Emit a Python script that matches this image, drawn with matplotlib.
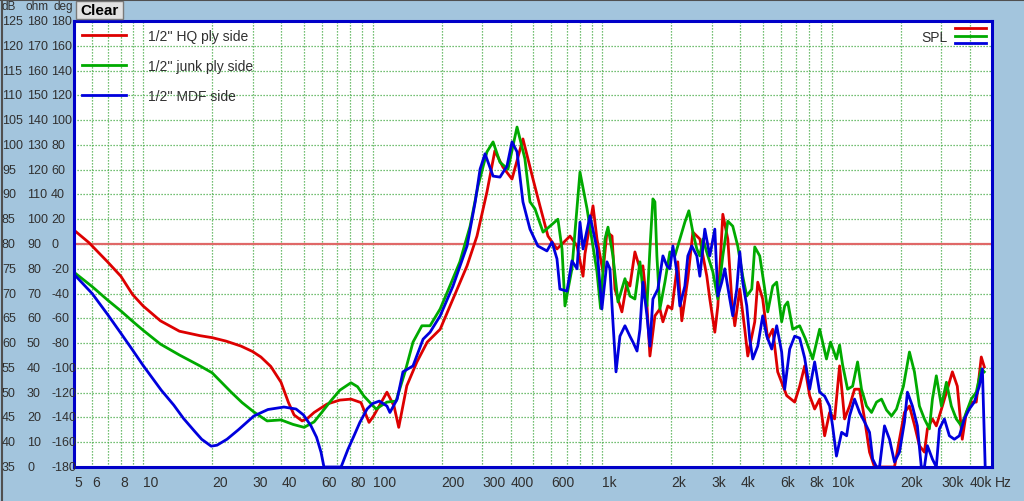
# SPL comparison of three baffle materials (log frequency plot)
import matplotlib
matplotlib.use("Agg")
import matplotlib.pyplot as plt
from matplotlib import transforms
from matplotlib.patches import Rectangle
from matplotlib.lines import Line2D

plt.rcParams['font.family'] = ['Liberation Sans', 'DejaVu Sans']

# --- data -----------------------------------------------------------------
series_labels = ["1/2'' HQ ply side", "1/2'' junk ply side", "1/2'' MDF side"]

red_freq = [5, 5.8, 7, 8, 9, 10, 11.9, 14.4, 17.7, 20, 23, 26.7, 30, 32.6, 36, 39.9, 43, 45.5,
            49.3, 52, 55.6, 63.3, 72, 80.5, 89, 96.5,
            101, 115.5, 124, 130, 141, 156, 173, 197, 224, 258, 285, 315, 341, 370, 405, 452,
            500, 536, 581, 636, 725, 778, 826, 842, 913, 950, 1009, 1050, 1105, 1138, 1220,
            1284, 1322, 1390, 1462, 1506, 1569, 1616, 1699, 1786, 1841, 1935, 2015, 2137, 2225,
            2364, 2486, 2667, 2860, 2947, 3099, 3194, 3358, 3530, 3672, 3786, 3980, 4185, 4314,
            4626, 4767, 5010, 5270, 5540, 5823, 6374, 6905, 7260, 7633, 8024, 8437, 8870, 9325,
            9804, 10308, 10837, 11393, 11978, 12593, 13240, 13919, 14634, 15385, 16500, 17878,
            18796, 19761, 20775, 21842, 22963, 24142, 25381, 26150, 27500, 28600, 30390, 31950,
            33600, 35300, 37100, 38650, 40600, 42700, 44900, 46280]
red_db = [82.8, 80.3, 76.4, 73.5, 69.8, 67.5, 64.5, 62.4, 61.5, 61.1, 60.4, 59.4, 58.3, 57.2,
          55.3, 52.1, 48.0, 45.5, 44.3, 44.8, 46.0, 47.7, 48.5, 48.7, 48.0, 44.0,
          45.3, 50.1, 47.3, 43.0, 51.4, 56.2, 60.2, 62.8, 68.9, 75.6, 81.6, 90.5, 98.8,
          95.5, 93.1, 101.2, 93.1, 87.7, 81.6, 79.0, 81.6, 79.6, 73.5, 78.0, 87.7, 81.0, 74.4,
          82.4, 81.6, 70.9, 66.3, 72.3, 71.5, 78.4, 75.0, 75.6, 67.5, 57.4, 65.5, 66.9, 64.3,
          67.5, 66.9, 76.4, 64.5, 73.0, 82.4, 81.0, 73.5, 68.9, 62.2, 67.5, 86.0, 81.0, 68.9,
          63.5, 70.9, 62.8, 57.4, 64.3, 72.3, 68.9, 60.8, 62.8, 54.2, 49.4, 48.1, 51.3, 55.4,
          49.4, 46.7, 48.7, 41.3, 46.0, 44.7, 55.4, 44.7, 47.3, 50.7, 50.7, 44.7, 38.0, 35.0,
          35.0, 35.0, 35.0, 40.6, 46.0, 47.3, 43.5, 39.3, 38.0, 42.7, 44.7, 43.3, 47.3, 50.7,
          54.2, 51.3, 40.6, 46.0, 48.1, 48.1, 57.2, 55.2]

green_freq = [5, 6, 7, 8, 9, 10, 11.9, 14.4, 17.7, 20, 24.2, 27, 30.4, 34.7, 39.9, 45, 50.3,
              55.6, 60, 65.9, 72, 80.5, 86, 91.7, 103.5,
              115.5, 126.5, 138.5, 150, 164, 178, 197, 217, 240, 266, 288, 315, 335, 359, 389,
              426, 461, 485, 510, 553, 593, 642, 669, 689, 739, 801, 860, 950, 985, 1029, 1061,
              1115, 1173, 1258, 1322, 1390, 1462, 1506, 1569, 1616, 1665, 1699, 1733, 1786, 1878,
              1974, 2076, 2182, 2294, 2388, 2486, 2587, 2667, 2750, 2890, 3038, 3194, 3358, 3530,
              3710, 3900, 4100, 4270, 4490, 4626, 4863, 5113, 5270, 5540, 5765, 6060, 6247, 6440,
              6770, 7260, 7700, 8270, 8870, 9500, 9900, 10500, 10837, 11170, 11740, 12350, 12980,
              13500, 14200, 14930, 15700, 16500, 17350, 18250, 19180, 20560, 21840, 22960, 24140,
              25380, 26680, 27500, 28600, 30100, 31650, 33250, 34950, 36750, 38650, 40600, 42700,
              44900, 46280]
green_db = [74.3, 71.4, 68.7, 66.5, 64.4, 62.6, 59.8, 57.6, 55.4, 54.0, 50.1, 48.0, 46.1, 44.3,
            44.5, 43.6, 43.0, 44.1, 46.0, 48.4, 50.5, 52.0, 51.2, 49.3,
            46.7, 48.1, 48.3, 54.2, 60.2, 63.5, 63.5, 66.9, 71.5, 76.4, 83.6, 91.7, 98.6, 100.6,
            96.5, 95.1, 103.6, 97.2, 88.5, 87.1, 82.4, 83.6, 85.0, 79.0, 67.5, 75.0, 94.5, 87.1,
            74.4, 67.0, 81.0, 83.4, 77.6, 68.3, 73.0, 69.5, 68.9, 76.4, 70.9, 67.5, 79.0, 89.1,
            88.5, 77.6, 66.9, 72.3, 78.4, 77.6, 81.0, 84.4, 86.7, 82.4, 79.0, 77.6, 81.0, 77.6,
            74.4, 68.9, 77.6, 84.6, 83.6, 79.6, 73.5, 69.5, 70.9, 79.4, 77.6, 70.9, 66.3, 71.5,
            72.3, 64.3, 67.5, 68.3, 62.8, 63.5, 60.8, 56.8, 62.8, 56.8, 60.2, 56.8, 59.6, 55.6,
            50.7, 51.3, 56.2, 50.7, 47.3, 46.0, 48.1, 48.7, 46.5, 45.3, 46.7, 51.3, 58.2, 54.2,
            47.3, 44.7, 42.7, 48.7, 53.4, 47.3, 52.1, 47.3, 44.7, 43.3, 46.0, 48.7, 50.1, 54.8,
            54.2]

blue_freq = [5, 6, 7, 8, 9, 10, 12, 13.6, 15, 16.7, 18, 19.8, 21, 23.2, 26, 30.4, 35, 41.1,
             46.4, 50, 53.9, 57, 59.6, 61.4, 72.9, 78, 83, 88, 94.6, 100, 107, 115.5, 119,
             128, 135.6, 150, 166, 178, 197, 224, 258, 280, 294, 309, 335,
             359, 385, 405, 426, 452, 485, 525, 575, 605, 636, 655, 703, 739, 778, 801, 826, 886,
             950, 998, 1050, 1082, 1115, 1150, 1196, 1258, 1322, 1363, 1420, 1462, 1506, 1569,
             1616, 1665, 1750, 1841, 1916, 1974, 2035, 2117, 2182, 2294, 2364, 2460, 2587, 2667,
             2803, 2947, 3099, 3194, 3324, 3425, 3601, 3710, 3862, 3980, 4100, 4270, 4400, 4535,
             4767, 5010, 5220, 5485, 5765, 6060, 6247, 6568, 6905, 7260, 7633, 8024, 8437, 8870,
             9325, 9804, 10100, 10500, 11060, 11630, 11978, 12593, 13240, 13919, 14634, 15100,
             15700, 16175, 17005, 17878, 18796, 19761, 20775, 21400, 22500, 23650, 24600, 25381,
             26150, 27500, 28600, 29494, 31008, 32600, 34273, 36033, 37882, 39827, 41871, 44021,
             45400, 46700]
blue_db = [73.9, 70.0, 65.8, 62.0, 58.6, 55.5, 50.5, 47.5, 44.8, 42.3, 40.6, 39.2, 39.4, 40.6,
           42.5, 45.3, 46.6, 47.1, 46.7, 45.5, 43.3, 41.0, 38.0, 35.0, 35.0, 38.5, 41.3, 44.0,
           46.7, 47.8, 48.3, 47.3, 46.0, 48.7, 54.2, 55.4, 60.8, 62.2, 65.5, 71.5, 79.6, 88.5,
           95.1, 98.2, 93.7, 93.5, 95.7, 100.6, 98.6, 88.5, 83.0, 79.6, 78.6, 80.4, 77.0, 70.9,
           70.5, 76.6, 75.0, 84.4, 79.0, 85.7, 79.0, 66.9, 76.4, 75.0, 64.3, 54.2, 61.4, 63.5,
           61.4, 60.2, 58.4, 62.8, 72.3, 65.5, 59.4, 68.9, 70.9, 77.6, 75.6, 75.0, 79.6, 74.4,
           67.5, 71.5, 77.6, 79.6, 77.6, 73.5, 83.0, 77.6, 83.0, 69.5, 72.3, 75.0, 68.9, 65.5,
           70.9, 78.4, 72.3, 67.5, 60.8, 56.8, 59.4, 65.5, 61.4, 58.8, 63.5, 58.2, 50.7, 58.8,
           61.4, 61.0, 57.0, 50.7, 56.2, 50.1, 49.3, 47.3, 43.3, 37.2, 42.0, 41.3, 45.3, 48.7,
           46.0, 44.1, 42.0, 36.6, 35.0, 35.0, 43.3, 40.6, 36.0, 38.0, 44.1, 50.1, 47.3, 43.3,
           35.0, 35.0, 39.3, 36.6, 35.0, 42.7, 44.7, 41.3, 40.6, 41.3, 44.7, 46.7, 48.1, 51.3,
           54.8, 35.0]

x_tick_freqs = [5, 6, 8, 10, 20, 30, 40, 60, 80, 100, 200, 300, 400, 600,
                1000, 2000, 3000, 4000, 6000, 8000, 10000, 20000, 30000, 40000]
x_tick_labels = ['5', '6', '8', '10', '20', '30', '40', '60', '80', '100', '200', '300', '400',
                 '600', '1k', '2k', '3k', '4k', '6k', '8k', '10k', '20k', '30k', '40k']
db_ticks = list(range(35, 130, 5))
ohm_ticks = list(range(0, 190, 10))
deg_ticks = list(range(-180, 200, 20))
ref_level = 80

# --- figure -----------------------------------------------------------------
W, H = 1024, 502
bg = '#a3c5dd'
txt = '#303030'
fig = plt.figure(figsize=(W / 100, H / 100), dpi=100, facecolor=bg)
ax = fig.add_axes([74 / W, 34 / H, 918 / W, 446 / H])
ax.set_facecolor('white')
ax.set_xscale('log')
ax.set_xlim(5, 50000)
ax.set_ylim(35, 125)
ax.set_xticks([])
ax.set_xticks([], minor=True)
ax.set_yticks([])
for s in ax.spines.values():
    s.set_color('#0000c8')
    s.set_linewidth(2.2)
    s.set_zorder(10)

# grid: every 1..9 in each decade, every 5 dB
grid_freqs = [m * 10 ** d for d in range(0, 5) for m in range(1, 10) if 5 < m * 10 ** d < 50000]
for f in grid_freqs:
    ax.axvline(f, color='#46aa46', lw=0.9, ls=(0, (1, 1.4)), zorder=1)
for v in db_ticks[1:-1]:
    ax.axhline(v, color='#46aa46', lw=0.9, ls=(0, (1, 1.4)), zorder=1)

ax.axhline(ref_level, color='#e06868', lw=1.6, zorder=2)

ax.plot(red_freq, red_db, color='#dd0000', lw=2, label=series_labels[0], zorder=3)
ax.plot(green_freq, green_db, color='#00aa00', lw=2, label=series_labels[1], zorder=3)
ax.plot(blue_freq, blue_db, color='#0000dd', lw=2, label=series_labels[2], zorder=3)

leg = ax.legend(loc='upper left', bbox_to_anchor=(0.0087, 0.983), frameon=False,
                fontsize=10, handlelength=3.2, handletextpad=1.55, labelspacing=1.17,
                borderpad=0, borderaxespad=0)
for t in leg.get_texts():
    t.set_color(txt)

# SPL marker top right
ax.text(0.952, 0.964, 'SPL', transform=ax.transAxes, ha='right', va='center',
        fontsize=10, color=txt)
for yy, c in zip([0.9836, 0.9657, 0.950], ['#dd0000', '#00aa00', '#0000dd']):
    ax.add_line(Line2D([0.9597, 0.9935], [yy, yy], transform=ax.transAxes, color=c, lw=2))

# x labels, left aligned at the grid line
for f, lab in zip(x_tick_freqs, x_tick_labels):
    ax.text(f, -0.034, lab, transform=ax.get_xaxis_transform(), ha='left', va='center',
            fontsize=10, color=txt)
ax.text(1.0035, -0.034, 'Hz', transform=ax.transAxes, ha='left', va='center',
        fontsize=10, color=txt)

# three left scales
ytr = transforms.blended_transform_factory(fig.transFigure, ax.transData)
for d, o, g in zip(db_ticks, ohm_ticks, deg_ticks):
    fig.text(2 / W, d, str(d), transform=ytr, ha='left', va='center', fontsize=9, color=txt)
    fig.text(27 / W, d, str(o), transform=ytr, ha='left', va='center', fontsize=9, color=txt)
    fig.text(51 / W, d, str(g), transform=ytr, ha='left', va='center', fontsize=9, color=txt)
for xx, lab in zip([1, 26, 53], ['dB', 'ohm', 'deg']):
    fig.text(xx / W, 1 - 7 / H, lab, ha='left', va='center', fontsize=8.5, color=txt)

# Clear button
fig.add_artist(Rectangle((76 / W, 1 - 20 / H), 47 / W, 18 / H, transform=fig.transFigure,
                         facecolor='#e2e2e2', edgecolor='#7a7a7a', lw=1))
fig.text(99.5 / W, 1 - 11 / H, 'Clear', ha='center', va='center', fontsize=11,
         fontweight='bold', color='black')

# window edges
fig.add_artist(Line2D([1.5 / W, 1.5 / W], [0, 1], transform=fig.transFigure,
                      color='#505050', lw=1.5))
fig.add_artist(Line2D([0, 1], [1 - 0.5 / H, 1 - 0.5 / H], transform=fig.transFigure,
                      color='#505050', lw=1.5))

fig.savefig('out.png', dpi=100, facecolor=bg)
